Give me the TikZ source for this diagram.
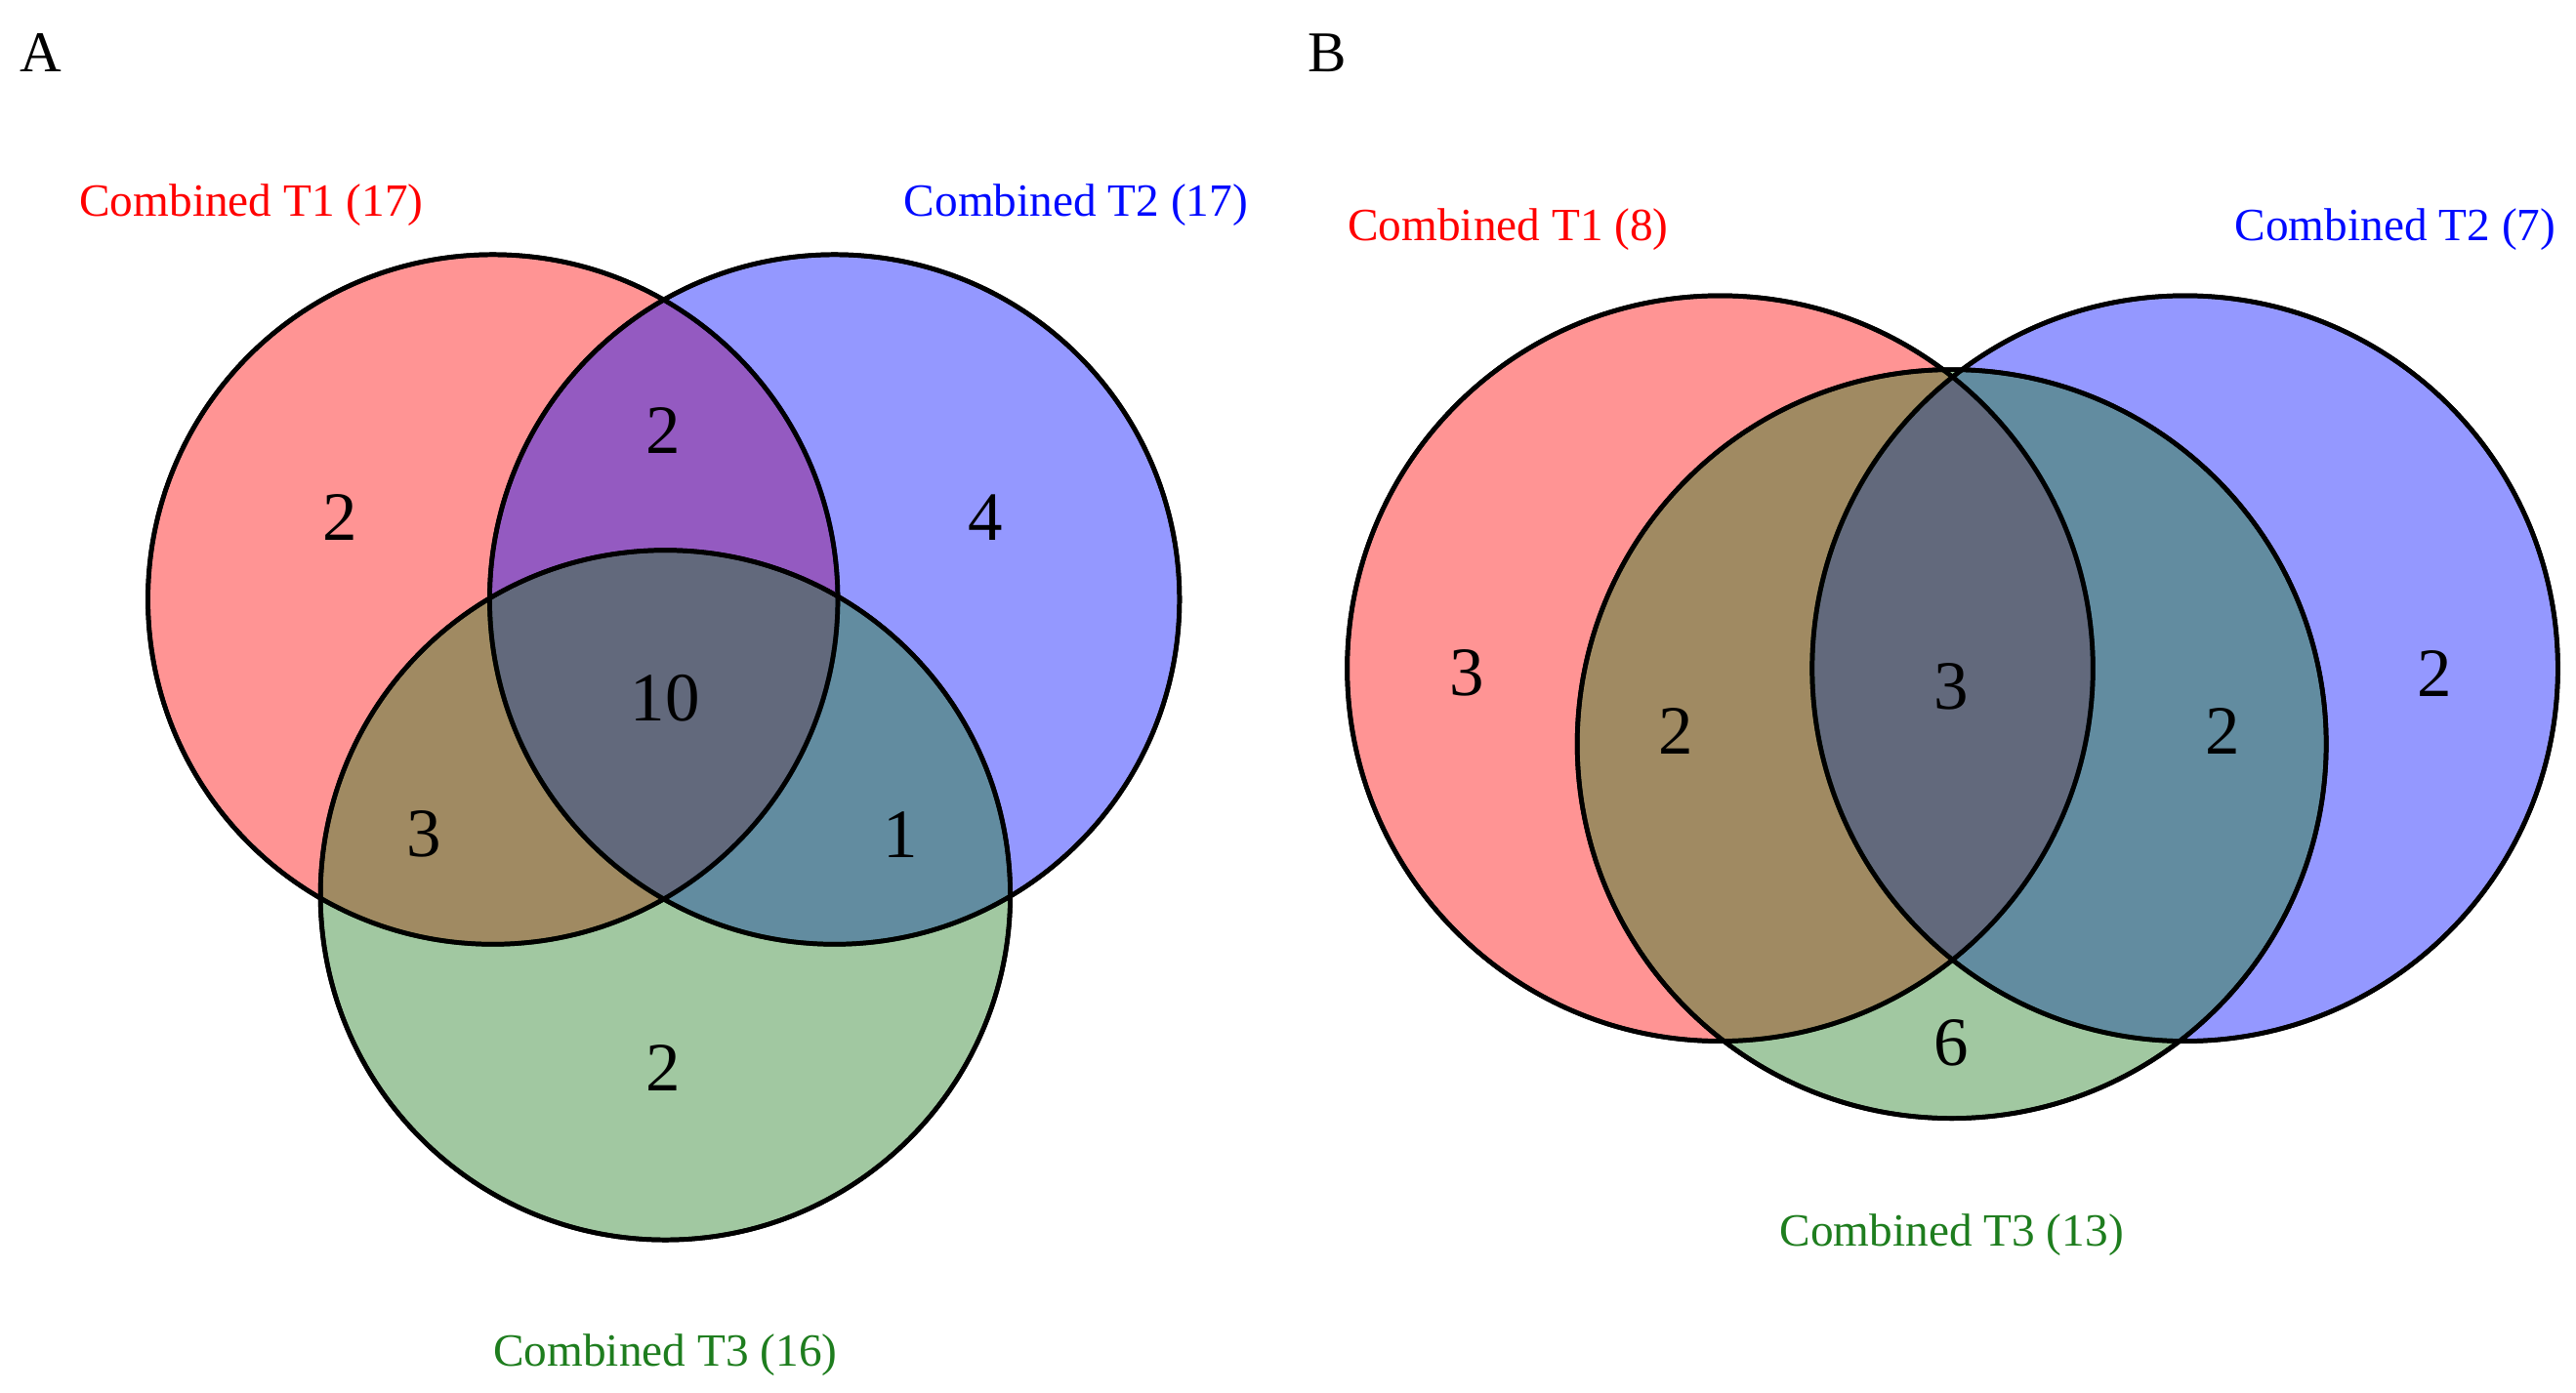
\documentclass[tikz,border=0pt]{standalone}
\usepackage{fontspec}
\setmainfont{Liberation Serif}
\usetikzlibrary{positioning}
\definecolor{setred}{RGB}{255,0,0}
\definecolor{setblue}{RGB}{0,10,255}
\definecolor{setgreen}{RGB}{30,125,30}
\tikzset{
  set/.style={draw=black, line width=1.6pt, fill opacity=0.42},
  count/.style={font=\fontsize{24}{28}\selectfont},
  setlabel/.style={font=\fontsize{16}{19}\selectfont},
  panel/.style={font=\fontsize{20}{24}\selectfont}
}
\begin{document}
\begin{tikzpicture}[x=0.02cm,y=-0.02cm]
  \useasboundingbox (0,0) rectangle (1568,848);

  % panel A
  \fill[set,fill=setred]   (300,365) circle[radius=4.2cm];
  \fill[set,fill=setblue]  (508,365) circle[radius=4.2cm];
  \fill[set,fill=setgreen] (405,545) circle[radius=4.2cm];
  \draw[line width=1.6pt] (300,365) circle[radius=4.2cm];
  \draw[line width=1.6pt] (508,365) circle[radius=4.2cm];
  \draw[line width=1.6pt] (405,545) circle[radius=4.2cm];

  \node[panel] (pA) at (25,32) {A};
  \node[setlabel,text=setred]   (lA1) at (153,125) {Combined T1 (17)};
  \node[setlabel,text=setblue]  (lA2) at (655,125) {Combined T2 (17)};
  \node[setlabel,text=setgreen] (lA3) at (405,825) {Combined T3 (16)};
  \node[count] (a1)   at (207,315) {2};
  \node[count] (a12)  at (404,262) {2};
  \node[count] (a2)   at (600,315) {4};
  \node[count] (a123) at (405,425) {10};
  \node[count] (a13)  at (258,508) {3};
  \node[count] (a23)  at (548,508) {1};
  \node[count] (a3)   at (404,650) {2};

  % panel B
  \fill[set,fill=setred]   (1047,407) circle[radius=4.54cm];
  \fill[set,fill=setblue]  (1330,407) circle[radius=4.54cm];
  \fill[set,fill=setgreen] (1188,453) circle[radius=4.56cm];
  \draw[line width=1.6pt] (1047,407) circle[radius=4.54cm];
  \draw[line width=1.6pt] (1330,407) circle[radius=4.54cm];
  \draw[line width=1.6pt] (1188,453) circle[radius=4.56cm];

  \node[panel] (pB) at (808,32) {B};
  \node[setlabel,text=setred]   (lB1) at (918,140)  {Combined T1 (8)};
  \node[setlabel,text=setblue]  (lB2) at (1458,140) {Combined T2 (7)};
  \node[setlabel,text=setgreen] (lB3) at (1188,752) {Combined T3 (13)};
  \node[count] (b1)   at (893,410)  {3};
  \node[count] (b13)  at (1020,445) {2};
  \node[count] (b123) at (1188,418) {3};
  \node[count] (b23)  at (1353,445) {2};
  \node[count] (b2)   at (1482,410) {2};
  \node[count] (b3)   at (1188,635) {6};
\end{tikzpicture}
\end{document}
